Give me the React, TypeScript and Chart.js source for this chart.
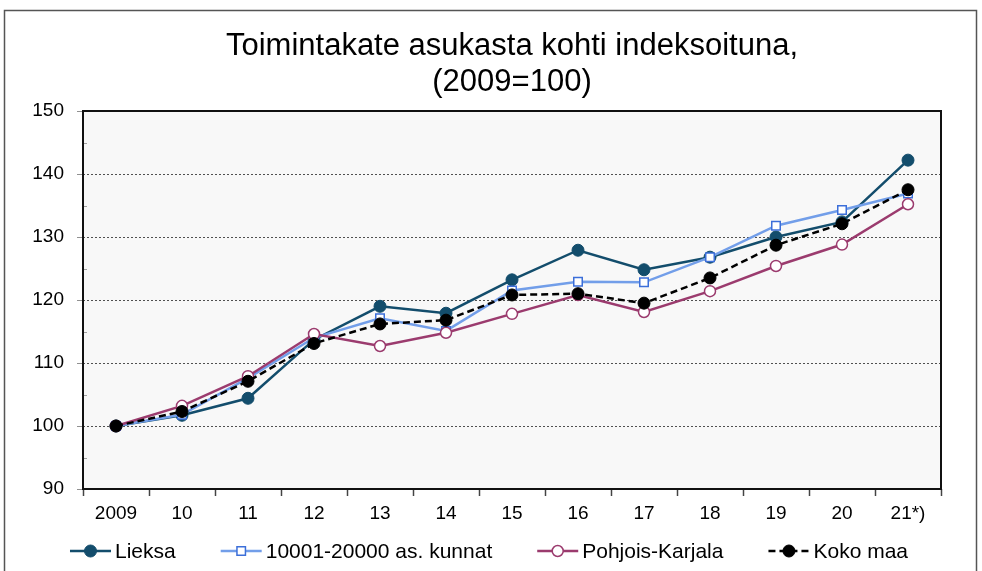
import React, { useEffect, useRef } from "react";
import { Chart, registerables } from "chart.js";

Chart.register(...registerables);

const titleLines = ["Toimintakate asukasta kohti indeksoituna,", "(2009=100)"];
const categories = ["2009", "10", "11", "12", "13", "14", "15", "16", "17", "18", "19", "20", "21*)"];
const lieksa = [100, 101.7, 104.4, 113.7, 119.0, 117.9, 123.2, 127.9, 124.8, 126.8, 130.0, 132.4, 142.2];
const kunnat = [100, 101.8, 107.6, 114.0, 117.1, 115.1, 121.5, 122.9, 122.8, 126.8, 131.8, 134.3, 136.9];
const pohjoisKarjala = [100, 103.2, 107.9, 114.6, 112.7, 114.8, 117.8, 120.8, 118.1, 121.4, 125.4, 128.8, 135.2];
const kokoMaa = [100, 102.3, 107.1, 113.1, 116.2, 116.8, 120.8, 121.0, 119.5, 123.5, 128.7, 132.1, 137.5];
const seriesNames = ["Lieksa", "10001-20000 as. kunnat", "Pohjois-Karjala", "Koko maa"];
const yMin = 90;
const yMax = 150;
const yStep = 10;

const FONT = "'Liberation Sans', Arial, sans-serif";

const framePlugin = {
  id: "framePlugin",
  beforeDraw(chart: any) {
    const { ctx, chartArea } = chart;
    ctx.save();
    ctx.fillStyle = "#ffffff";
    ctx.fillRect(0, 0, chart.width, chart.height);
    ctx.strokeStyle = "#555555";
    ctx.lineWidth = 1.5;
    ctx.strokeRect(4.5, 10.5, 972, 700);
    ctx.fillStyle = "#f8f8f8";
    ctx.fillRect(chartArea.left, chartArea.top, chartArea.right - chartArea.left, chartArea.bottom - chartArea.top);
    ctx.restore();
  },
  afterDraw(chart: any) {
    const { ctx, chartArea, scales } = chart;
    ctx.save();
    // minor ticks
    ctx.strokeStyle = "#a0a0a0";
    ctx.lineWidth = 1;
    for (let v = yMin + yStep / 2; v < yMax; v += yStep) {
      const y = Math.round(scales.y.getPixelForValue(v)) + 0.5;
      ctx.beginPath();
      ctx.moveTo(chartArea.left, y);
      ctx.lineTo(chartArea.left + 4, y);
      ctx.stroke();
    }
    // plot frame
    ctx.strokeStyle = "#111111";
    ctx.lineWidth = 2;
    ctx.strokeRect(chartArea.left, chartArea.top, chartArea.right - chartArea.left, chartArea.bottom - chartArea.top);
    // title
    ctx.fillStyle = "#000000";
    ctx.font = `31px ${FONT}`;
    ctx.textAlign = "center";
    ctx.textBaseline = "middle";
    const cx = (chartArea.left + chartArea.right) / 2;
    ctx.fillText(titleLines[0], cx, 46);
    ctx.fillText(titleLines[1], cx, 82);
    // legend
    ctx.font = `21px ${FONT}`;
    ctx.textAlign = "left";
    const lineW = 41;
    const gapText = 4;
    const gapItem = 45;
    const ds = chart.data.datasets;
    const legendOrder = [0, 1, 2, 3];
    const widths = legendOrder.map((i) => lineW + gapText + ctx.measureText(seriesNames[i]).width);
    const total = widths.reduce((a, b) => a + b, 0) + gapItem * (widths.length - 1);
    let x = 489 - total / 2;
    const ly = 551;
    legendOrder.forEach((i, k) => {
      const d = ds[i];
      ctx.save();
      ctx.strokeStyle = d.borderColor;
      ctx.lineWidth = d.borderWidth;
      ctx.setLineDash(d.borderDash || []);
      ctx.beginPath();
      ctx.moveTo(x, ly);
      ctx.lineTo(x + lineW, ly);
      ctx.stroke();
      ctx.setLineDash([]);
      const mx = x + lineW / 2;
      ctx.fillStyle = d.pointBackgroundColor;
      ctx.strokeStyle = d.pointBorderColor;
      ctx.lineWidth = d.pointBorderWidth;
      ctx.beginPath();
      if (d.pointStyle === "rect") {
        const s = d.pointRadius * Math.SQRT1_2;
        ctx.rect(mx - s, ly - s, 2 * s, 2 * s);
      } else {
        ctx.arc(mx, ly, d.pointRadius, 0, Math.PI * 2);
      }
      ctx.fill();
      ctx.stroke();
      ctx.restore();
      ctx.fillStyle = "#000000";
      ctx.fillText(seriesNames[i], x + lineW + gapText, ly + 1);
      x += widths[k] + gapItem;
    });
    ctx.restore();
  },
};

export default function App() {
  const canvasRef = useRef<HTMLCanvasElement | null>(null);

  useEffect(() => {
    const canvas = canvasRef.current;
    if (!canvas) return;
    const chart = new Chart(canvas, {
      type: "line",
      data: {
        labels: categories,
        datasets: [
          {
            label: seriesNames[0],
            data: lieksa,
            borderColor: "#134d6c",
            borderWidth: 2.5,
            pointStyle: "circle",
            pointRadius: 6,
            pointBackgroundColor: "#134d6c",
            pointBorderColor: "#134d6c",
            pointBorderWidth: 1,
            order: 3,
          },
          {
            label: seriesNames[1],
            data: kunnat,
            borderColor: "#729ee9",
            borderWidth: 2.5,
            pointStyle: "rect",
            pointRadius: 6,
            pointBackgroundColor: "#ffffff",
            pointBorderColor: "#3c6fd9",
            pointBorderWidth: 1.5,
            order: 2,
          },
          {
            label: seriesNames[2],
            data: pohjoisKarjala,
            borderColor: "#9b3b6e",
            borderWidth: 2.5,
            pointStyle: "circle",
            pointRadius: 5.5,
            pointBackgroundColor: "#ffffff",
            pointBorderColor: "#9b3b6e",
            pointBorderWidth: 1.5,
            order: 1,
          },
          {
            label: seriesNames[3],
            data: kokoMaa,
            borderColor: "#000000",
            borderWidth: 2.5,
            borderDash: [7, 4],
            pointStyle: "circle",
            pointRadius: 6,
            pointBackgroundColor: "#000000",
            pointBorderColor: "#000000",
            pointBorderWidth: 1,
            order: 0,
          },
        ] as any,
      },
      options: {
        responsive: false,
        animation: false,
        devicePixelRatio: 1,
        layout: { padding: { left: 0, right: 41, top: 111, bottom: 42 } },
        plugins: {
          legend: { display: false },
          title: { display: false },
          tooltip: { enabled: false },
        },
        elements: { line: { tension: 0 } },
        scales: {
          x: {
            type: "category",
            offset: true,
            grid: {
              offset: true,
              drawOnChartArea: false,
              drawTicks: true,
              tickLength: 7,
              tickColor: "#444444",
              tickWidth: 1.5,
            },
            border: { display: false },
            ticks: {
              color: "#000000",
              font: { family: FONT, size: 19 },
              padding: 6,
              maxRotation: 0,
              autoSkip: false,
            },
            afterFit: (scale: any) => {
              scale.height = 40;
            },
          },
          y: {
            min: yMin,
            max: yMax,
            grid: {
              color: (ctx: any) =>
                ctx.tick && (ctx.tick.value === yMin || ctx.tick.value === yMax) ? "rgba(0,0,0,0)" : "#505050",
              lineWidth: 1,
              drawTicks: true,
              tickLength: 6,
              tickColor: "#909090",
              tickWidth: 1,
            },
            border: { display: false, dash: [2, 2] },
            ticks: {
              stepSize: yStep,
              color: "#000000",
              font: { family: FONT, size: 19 },
              padding: 13,
            },
            afterFit: (scale: any) => {
              scale.width = 83;
            },
          },
        },
      } as any,
      plugins: [framePlugin],
    });
    return () => chart.destroy();
  }, []);

  return (
    <div style={{ position: "fixed", left: 0, top: 0, width: 982, height: 571, background: "#ffffff" }}>
      <canvas ref={canvasRef} width={982} height={571} style={{ display: "block", width: 982, height: 571 }} />
    </div>
  );
}
